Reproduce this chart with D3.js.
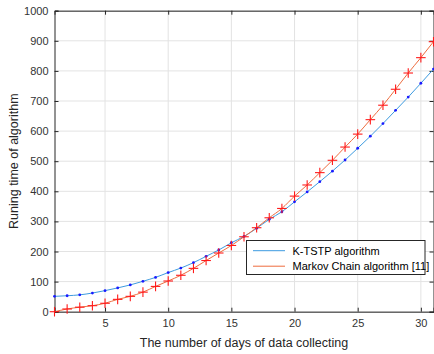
<!DOCTYPE html>
<html><head><meta charset="utf-8">
<script src="https://cdn.jsdelivr.net/npm/d3@7"></script>
<style>body{margin:0;background:#fff}svg{display:block}text{font-family:"Liberation Sans",Arial,sans-serif}</style>
</head><body><svg id="c" width="434" height="354"></svg>
<script>
const days = d3.range(1, 32);
const ktstp = [51,53,56,62,70,79,89,101,114,130,145,163,184,205,229,250,277,307,332,365,398,432,467,504,543,583,625,669,713,759,806];
const markov = [0,9,15,20,28,41,51,65,84,102,121,144,170,195,220,249,279,312,343,384,421,462,503,547,590,638,686,739,793,844,897];
const xTicks = [5,10,15,20,25,30];
const yTicks = [0,100,200,300,400,500,600,700,800,900,1000];
const seriesNames = ["K-TSTP algorithm","Markov Chain algorithm [11]"];

const svg = d3.select("#c");
const L=54.5, R=433.5, T=10.7, B=311.7;
const x = d3.scaleLinear().domain([1,31]).range([L,R]);
const y = d3.scaleLinear().domain([0,1000]).range([B,T]);
const axisCol="#262626";

// grid
svg.append("g").selectAll("line").data(xTicks).join("line")
  .attr("x1",d=>x(d)).attr("x2",d=>x(d)).attr("y1",T).attr("y2",B)
  .attr("stroke","#e3e3e3").attr("stroke-width",1);
svg.append("g").selectAll("line").data(yTicks).join("line")
  .attr("y1",d=>y(d)).attr("y2",d=>y(d)).attr("x1",L).attr("x2",R)
  .attr("stroke","#e3e3e3").attr("stroke-width",1);

// axes
const xa = svg.append("g").attr("transform",`translate(0,${B})`)
  .call(d3.axisBottom(x).tickValues(xTicks).tickSize(-4).tickPadding(8).tickFormat(d3.format("d")));
const ya = svg.append("g").attr("transform",`translate(${L},0)`)
  .call(d3.axisLeft(y).tickValues(yTicks).tickSize(-4).tickPadding(6).tickFormat(d3.format("d")));
const xt = svg.append("g").attr("transform",`translate(0,${T})`)
  .call(d3.axisTop(x).tickValues(xTicks).tickSize(-4).tickFormat(""));
const yr = svg.append("g").attr("transform",`translate(${R},0)`)
  .call(d3.axisRight(y).tickValues(yTicks).tickSize(-4).tickFormat(""));
[xa,ya,xt,yr].forEach(g=>{
  g.select(".domain").attr("stroke",axisCol).attr("stroke-width",1);
  g.selectAll(".tick line").attr("stroke",axisCol);
  g.selectAll(".tick text").attr("fill","#333").style("font-size","11px").style("font-family","Liberation Sans, Arial, sans-serif");
});

// lines
const line = (arr)=>d3.line().x((d,i)=>x(days[i])).y(d=>y(d)).curve(d3.curveMonotoneX)(arr);
svg.append("path").attr("d",line(ktstp)).attr("fill","none").attr("stroke","#3d9be0").attr("stroke-width",1);
svg.append("path").attr("d",line(markov)).attr("fill","none").attr("stroke","#ee6c3e").attr("stroke-width",1);

// markers
svg.append("g").selectAll("circle").data(ktstp).join("circle")
  .attr("cx",(d,i)=>x(days[i])).attr("cy",d=>y(d)).attr("r",1.4).attr("fill","#1a1aff");
const pg = svg.append("g").attr("stroke","#ff1a1a").attr("stroke-width",1.1);
markov.forEach((d,i)=>{
  const cx=x(days[i]), cy=y(d), s=4.8;
  pg.append("line").attr("x1",cx-s).attr("x2",cx+s).attr("y1",cy).attr("y2",cy);
  pg.append("line").attr("x1",cx).attr("x2",cx).attr("y1",cy-s).attr("y2",cy+s);
});

// labels
svg.append("text").attr("x",(L+R)/2).attr("y",347).attr("text-anchor","middle")
  .attr("fill",axisCol).style("font-size","12.5px").text("The number of days of data collecting");
svg.append("text").attr("transform",`translate(18,${(T+B)/2}) rotate(-90)`).attr("text-anchor","middle")
  .attr("fill",axisCol).style("font-size","12.5px").text("Runing time of algorithm");

// legend
const lg = svg.append("g");
lg.append("rect").attr("x",246.5).attr("y",240.5).attr("width",178.5).attr("height",34)
  .attr("fill","#fff").attr("stroke",axisCol).attr("stroke-width",1);
const lcols=["#3d9be0","#ee6c3e"];
seriesNames.forEach((n,i)=>{
  const yy = 250.7 + i*15.5;
  lg.append("line").attr("x1",253).attr("x2",285).attr("y1",yy).attr("y2",yy).attr("stroke",lcols[i]).attr("stroke-width",1);
  lg.append("text").attr("x",292.5).attr("y",yy+4).attr("fill","#000").style("font-size","11px").text(n);
});
</script></body></html>
